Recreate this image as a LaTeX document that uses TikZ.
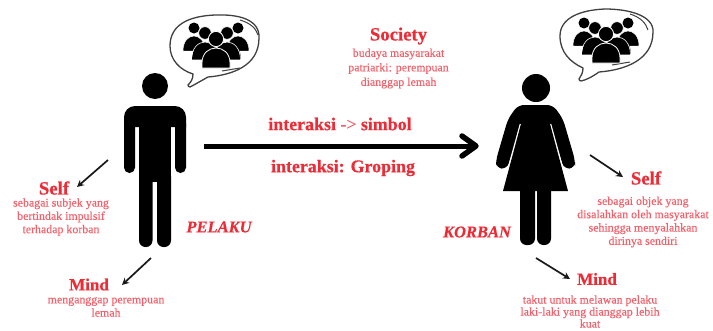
\documentclass[tikz,border=0pt]{standalone}
\usepackage{fontspec}
\setmainfont{Liberation Serif}
\newfontfamily\softbody[FakeBold=0.25]{Liberation Serif}
\newfontfamily\hardhead[FakeBold=0.5]{Liberation Serif Bold}
\newfontfamily\hardrole[FakeBold=0.3]{Liberation Serif Bold Italic}
\usetikzlibrary{arrows.meta}
\definecolor{headred}{HTML}{EE2A35}
\definecolor{bodyred}{HTML}{F4606A}
\tikzset{
  heading/.style={text=headred,font=\hardhead\fontsize{18.7}{19}\selectfont,inner sep=0pt},
  mindhead/.style={text=headred,font=\hardhead\fontsize{17}{17}\selectfont,inner sep=0pt},
  midlabel/.style={text=headred,font=\hardhead\fontsize{17.9}{18}\selectfont,inner sep=0pt},
  rolelabel/.style={text=headred,font=\hardrole\fontsize{16.5}{17}\selectfont,inner sep=0pt},
  bodytext/.style={text=bodyred,font=\softbody\fontsize{11.9}{13.3}\selectfont,align=center,inner sep=0pt},
  widelead/.style={font=\softbody\fontsize{11.9}{14.5}\selectfont},
  tightlead/.style={font=\softbody\fontsize{11.9}{12}\selectfont},
  thinarrow/.style={draw=black!90,line width=1.7pt,-{Stealth[length=7pt,width=7pt]}},
  bubble/.style={draw=black!75,line width=1.3pt,fill=white},
  gapline/.style={draw=white,line width=1.5pt},
  pics/people/.style={code={
    \foreach \cx/\hy/\bx in {-22/-11/-22,22/-11/22}{
      \fill (\cx,\hy) circle[radius=5.5pt];
      \fill[draw=white,line width=.5pt] (\bx-11,12) .. controls (\bx-11,-8) and (\bx+11,-8) .. (\bx+11,12) -- cycle;
    }
    \foreach \cx/\bx in {-11/-11,11/11}{
      \fill[draw=white,line width=.6pt] (\cx,-6) circle[radius=6.3pt];
      \fill[draw=white,line width=.6pt] (\bx-13.5,21) .. controls (\bx-13.5,-3) and (\bx+13.5,-3) .. (\bx+13.5,21) -- cycle;
    }
    \fill[draw=white,line width=.8pt] (0,0) circle[radius=7.6pt];
    \fill[draw=white,line width=.8pt] (-14,29) -- (-14,24) .. controls (-14,4) and (14,4) .. (14,24) -- (14,29) -- cycle;
  }}
}
\begin{document}
\begin{tikzpicture}[x=1pt,y=-1pt]
\useasboundingbox (0,0) rectangle (713,330);

% --- man
\fill (155,86) circle[radius=13pt];
\fill[rounded corners=11pt] (124,127) [rounded corners=11pt] -- (124,106) -- (186,106) [sharp corners] -- (186,127) -- cycle;
\fill[rounded corners=5.4pt] (124,118) rectangle (135,173);
\fill[rounded corners=5.4pt] (175,118) rectangle (186,173);
\fill (139,120) rectangle (171,182);
\fill[rounded corners=6.5pt] (139,170) rectangle (152.5,247);
\fill[rounded corners=6.5pt] (157,170) rectangle (171,247);

% --- man's speech bubble
\path[bubble] (190,87)
  .. controls (194,85) and (199,82) .. (208,77)
  .. controls (232,75) and (259,66) .. (259,38)
  .. controls (260,20) and (240,14) .. (215,15)
  .. controls (190,16) and (170,24) .. (170,46)
  .. controls (170,60) and (180,70) .. (193,74)
  .. controls (193,79) and (191,82) .. (188,85)
  .. controls (188,86) and (189,87) .. (190,87) -- cycle;
\draw[draw=black!75,line width=1pt] (240,20) .. controls (250,23) and (256,28) .. (258,35);
\draw[draw=black!75,line width=1pt] (222,71) -- (240,68);
\pic at (216,39) {people};

% --- woman
\fill (536,88) circle[radius=14pt];
\fill[rounded corners=6pt] (530,105) -- (518,105) -- (508,119) -- (496,160) -- (496,168) -- (507,169) -- (521,125) -- (530,125) -- cycle;
\fill[rounded corners=6pt] (541,105) -- (553,105) -- (563,119) -- (575,160) -- (575,168) -- (564,169) -- (550,125) -- (541,125) -- cycle;
\fill (522,105) rectangle (549,126);
\draw[gapline] (520.5,124) -- (507,173);
\draw[gapline] (550.5,124) -- (564,173);
\fill (521.5,122) -- (549.5,122) -- (568,191) -- (503,191) -- cycle;
\fill[rounded corners=6.5pt] (520,180) rectangle (535,245);
\fill[rounded corners=6.5pt] (537,180) rectangle (551,245);

% --- woman's speech bubble
\path[bubble] (581,81)
  .. controls (586,80) and (592,77) .. (599,72)
  .. controls (625,70) and (653,60) .. (653,32)
  .. controls (654,16) and (630,9) .. (605,9)
  .. controls (580,10) and (560,18) .. (560,36)
  .. controls (560,52) and (570,62) .. (583,68)
  .. controls (583,73) and (581,76) .. (579,79)
  .. controls (579,80) and (580,81) .. (581,81) -- cycle;
\draw[draw=black!75,line width=1pt] (630,14) .. controls (640,17) and (646,23) .. (648,30);
\draw[draw=black!75,line width=1pt] (612,65) -- (630,62);
\pic at (606,34) {people};

% --- main arrow
\coordinate (mainfrom) at (204,146);
\coordinate (maintip) at (476,146);
\coordinate (chevtop) at (462,136);
\coordinate (chevbot) at (462,156);
\draw[line width=5pt] (mainfrom) -- (maintip);
\draw[line width=5.5pt,line cap=round,line join=round] (chevtop) -- (maintip) -- (chevbot);

% --- texts
\node[heading] (society) at (398.5,36) {Society};
\node[bodytext,widelead] (societytext) at (398.5,68.5) {budaya masyarakat\\patriarki: perempuan\\dianggap lemah};
\node[midlabel] (simbol) at (340,124) {interaksi \textcolor{bodyred}{\softbody ->} simbol};
\node[midlabel] (groping) at (343,168) {interaksi: Groping};

\node[heading] (selfL) at (54,188) {Self};
\node[bodytext] (selfLtext) at (61,217) {sebagai subjek yang\\bertindak impulsif\\terhadap korban};
\node[rolelabel] (pelaku) at (219,227) {PELAKU};
\node[mindhead] (mindL) at (89,284.5) {Mind};
\node[bodytext] (mindLtext) at (106,307) {menganggap perempuan\\lemah};

\node[heading] (selfR) at (646,178) {Self};
\node[bodytext] (selfRtext) at (643,222) {sebagai objek yang\\disalahkan oleh masyarakat\\sehingga menyalahkan\\dirinya sendiri};
\node[rolelabel] (korban) at (477,232) {KORBAN};
\node[mindhead] (mindR) at (597,279) {Mind};
\node[bodytext,tightlead] (mindRtext) at (590,311.5) {takut untuk melawan pelaku\\laki-laki yang dianggap lebih\\kuat};

% --- small arrows
\coordinate (selfLfrom) at (108,160);
\coordinate (selfLto) at (77,187);
\coordinate (mindLfrom) at (151,258);
\coordinate (mindLto) at (122,285);
\coordinate (selfRfrom) at (590,155);
\coordinate (selfRto) at (623,177);
\coordinate (mindRfrom) at (536,258);
\coordinate (mindRto) at (570,279);
\draw[thinarrow] (selfLfrom) -- (selfLto);
\draw[thinarrow] (mindLfrom) -- (mindLto);
\draw[thinarrow] (selfRfrom) -- (selfRto);
\draw[thinarrow] (mindRfrom) -- (mindRto);
\end{tikzpicture}
\end{document}
